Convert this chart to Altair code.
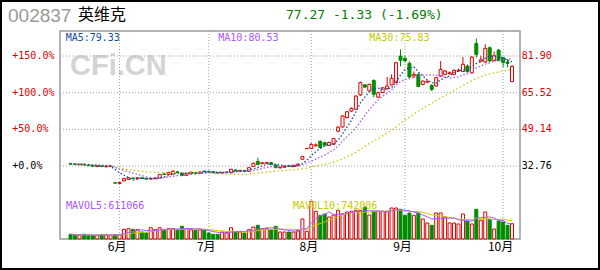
import altair as alt
import pandas as pd
import numpy as np

# ---------------- data ----------------
opens = [33.9, 33.7, 33.3, 33.6, 33.2, 32.9, 32.5, 32.8, 32.4, 32.5,
         25.3, 25.0, 26.1, 26.8, 27.4, 27.1, 27.5, 27.2, 26.9, 27.1,
         27.3, 29.2, 29.0, 29.2, 30.2, 29.6, 28.6, 29.3, 29.9, 29.5,
         30.5, 30.4, 30.2, 29.8, 29.6, 29.8, 29.7, 31.0, 30.5, 30.7,
         30.4, 32.6, 34.8, 33.8, 34.0, 34.2, 33.2, 31.9, 32.2, 32.9,
         32.5, 32.9, 35.8, 40.5, 40.6, 41.8, 43.8, 43.2, 42.0, 42.5,
         48.3, 50.2, 54.4, 57.3, 58.1, 64.5, 69.0, 66.3, 71.0, 63.5,
         65.6, 67.3, 69.0, 70.0, 81.8, 80.8, 78.6, 73.0, 73.7, 69.2,
         70.2, 68.8, 68.5, 72.9, 73.7, 74.0, 73.7, 75.2, 75.0, 77.4,
         74.4, 87.5, 79.6, 79.3, 85.6, 79.9, 84.5, 81.1, 79.2, 70.5]
highs = [34.2, 33.9, 33.8, 33.8, 33.4, 33.1, 33.0, 32.9, 32.9, 33.0,
         25.6, 25.6, 27.4, 27.8, 27.7, 27.8, 27.6, 27.4, 27.4, 27.6,
         29.2, 29.7, 30.2, 31.0, 30.5, 29.8, 29.6, 30.2, 30.1, 30.3,
         30.7, 30.6, 30.4, 30.0, 30.1, 30.3, 31.5, 31.3, 31.0, 30.9,
         32.2, 34.3, 36.5, 34.5, 34.6, 34.5, 33.4, 32.5, 33.0, 33.1,
         33.2, 33.9, 37.0, 40.66, 43.0, 42.9, 44.1, 43.6, 43.6, 45.3,
         50.5, 55.5, 57.3, 58.9, 64.4, 70.5, 69.4, 69.6, 71.4, 66.0,
         68.0, 72.5, 73.7, 79.3, 84.8, 82.0, 79.5, 75.0, 74.2, 71.0,
         71.0, 69.2, 72.6, 79.6, 75.6, 75.0, 75.9, 76.3, 81.4, 78.2,
         81.9, 89.8, 82.0, 87.1, 86.1, 83.9, 85.0, 81.6, 80.5, 77.8]
lows = [33.4, 33.2, 33.1, 33.0, 32.7, 32.4, 32.3, 32.3, 32.2, 32.3,
        24.9, 24.8, 25.9, 26.6, 26.9, 26.9, 27.0, 26.7, 26.8, 27.0,
        27.2, 28.8, 28.8, 29.0, 29.6, 28.3, 28.4, 29.1, 29.3, 29.3,
        30.1, 30.0, 29.6, 29.4, 29.4, 29.6, 29.6, 30.4, 30.3, 30.1,
        30.2, 32.4, 33.2, 33.6, 33.8, 33.2, 31.8, 31.7, 32.0, 32.3,
        32.3, 32.7, 35.5, 40.5, 40.3, 41.4, 40.8, 41.7, 41.6, 42.2,
        47.8, 49.9, 54.0, 57.0, 57.8, 64.0, 67.6, 66.0, 63.4, 63.2,
        65.3, 67.0, 68.8, 69.6, 77.3, 79.0, 71.5, 72.0, 68.0, 68.8,
        69.9, 66.2, 68.2, 72.6, 73.3, 73.6, 73.3, 74.8, 74.7, 74.5,
        74.0, 81.1, 79.0, 78.8, 79.2, 79.5, 79.4, 76.9, 76.8, 70.2]
closes = [33.6, 33.4, 33.6, 33.2, 32.9, 32.6, 32.8, 32.5, 32.7, 32.8,
          25.1, 25.4, 27.2, 27.5, 27.1, 27.5, 27.2, 26.9, 27.2, 27.4,
          29.0, 29.0, 29.8, 30.4, 29.8, 28.5, 29.3, 30.0, 29.5, 30.1,
          30.3, 30.2, 29.8, 29.6, 29.9, 30.0, 31.3, 30.6, 30.8, 30.3,
          32.0, 34.0, 33.4, 34.2, 34.3, 33.4, 32.0, 32.2, 32.7, 32.5,
          33.0, 33.6, 36.96, 40.66, 42.4, 42.2, 41.0, 42.1, 43.3, 45.0,
          50.1, 55.1, 57.0, 58.5, 64.0, 70.0, 68.0, 69.2, 64.8, 65.5,
          67.7, 68.5, 71.9, 78.9, 80.0, 79.8, 72.5, 73.7, 68.3, 70.7,
          70.6, 67.0, 72.2, 75.9, 75.2, 74.4, 75.5, 75.5, 78.2, 74.9,
          81.4, 82.6, 80.2, 85.3, 79.7, 82.0, 79.9, 79.0, 78.6, 77.27]
volumes = [189000, 149000, 149000, 189000, 149000, 149000, 149000, 173000, 173000, 149000,
           173000, 173000, 391000, 415000, 391000, 375000, 282000, 242000, 455000, 375000,
           455000, 351000, 415000, 415000, 375000, 512000, 415000, 375000, 351000, 375000,
           351000, 242000, 189000, 189000, 282000, 254000, 455000, 282000, 282000, 242000,
           375000, 484000, 552000, 415000, 415000, 375000, 512000, 282000, 282000, 282000,
           282000, 351000, 806000, 310000, 1519000, 1116000, 955000, 1008000, 887000, 967000,
           1157000, 1008000, 1088000, 1116000, 1157000, 1157000, 1290000, 967000, 1116000, 1116000,
           1116000, 1116000, 1249000, 1249000, 1197000, 955000, 1048000, 955000, 1048000, 806000,
           645000, 552000, 1048000, 1048000, 887000, 645000, 645000, 605000, 1008000, 725000,
           605000, 1197000, 754000, 1088000, 794000, 403000, 725000, 685000, 552000, 617000]

month_idx = [11, 31, 54, 75, 97]
month_labels = ["6月", "7月", "8月", "9月", "10月"]
price_ticks = [32.76, 49.14, 65.52, 81.90]
pct_labels = ["+0.0%", "+50.0%", "+100.0%", "+150.0%"]
price_labels = ["32.76", "49.14", "65.52", "81.90"]
stock_code = "002837"
stock_name = "英维克"
quote_text = "77.27 -1.33 (-1.69%)"
ma_texts = ["MA5:79.33", "MA10:80.53", "MA30:75.83"]
vol_texts = ["MAVOL5:611066", "MAVOL10:742006"]
watermark = "CFi.CN"

# ---------------- styling ----------------
RED = "#e00000"
GREEN = "#008c00"
BLUE = "#0f4c9e"
PURPLE = "#aa55ff"
YELLOW = "#c8c800"
GRID = "#a0a0a0"
MONO = "DejaVu Sans Mono"
CJK = "Noto Sans CJK SC"
W, H = 460, 208

df = pd.DataFrame({"i": np.arange(len(closes)), "open": opens, "high": highs,
                   "low": lows, "close": closes, "vol": volumes})
df["dir"] = np.where(df["close"] >= df["open"], "up", "down")
df["top"] = df[["open", "close"]].max(axis=1)
df["bot"] = df[["open", "close"]].min(axis=1)

xs = alt.Scale(domain=[0, 99], range=[5.5, 457], nice=False, zero=False)
ps = alt.Scale(domain=[32.76, 81.90], range=[135, 25], nice=False, zero=False)
vs = alt.Scale(domain=[0, 1000000], range=[208, 183.19], nice=False)
fill_s = alt.Scale(domain=["up", "down"], range=["white", GREEN])
stroke_s = alt.Scale(domain=["up", "down"], range=[RED, GREEN])

X = alt.X("i:Q", scale=xs, axis=None)
base = alt.Chart(df)

# gridlines
tick_df = pd.DataFrame({"p": price_ticks, "pct": pct_labels, "lab": price_labels})
mon_df = pd.DataFrame({"i": month_idx, "m": month_labels})
gh = alt.Chart(tick_df).mark_rule(color=GRID, strokeDash=[1, 2], strokeWidth=1).encode(
    y=alt.Y("p:Q", scale=ps, axis=None), x=alt.value(0), x2=alt.value(W))
gv = alt.Chart(mon_df).mark_rule(color=GRID, strokeDash=[1, 2], strokeWidth=1).encode(
    x=X, y=alt.value(0), y2=alt.value(H))

# watermark
wm = alt.Chart(pd.DataFrame({"t": [watermark]})).mark_text(
    align="left", baseline="middle", font="Liberation Sans", fontWeight="bold",
    fontSize=29, color="#d4d4d4").encode(x=alt.value(10), y=alt.value(35), text="t:N")

# candles
wick = base.mark_rule(strokeWidth=1).encode(
    x=X, y=alt.Y("low:Q", scale=ps, axis=None), y2="high:Q",
    stroke=alt.Stroke("dir:N", scale=stroke_s, legend=None))
body = base.mark_bar(size=3, strokeWidth=1).encode(
    x=X, y=alt.Y("top:Q", scale=ps, axis=None), y2="bot:Q",
    fill=alt.Fill("dir:N", scale=fill_s, legend=None),
    stroke=alt.Stroke("dir:N", scale=stroke_s, legend=None))

srt = [alt.SortField("i")]
ma = (base.transform_window(ma5="mean(close)", frame=[-4, 0], sort=srt)
      .transform_window(ma10="mean(close)", frame=[-9, 0], sort=srt)
      .transform_window(ma30="mean(close)", frame=[-29, 0], sort=srt))
ma5 = ma.mark_line(color=BLUE, strokeDash=[1.5, 2], strokeWidth=1.3).encode(
    x=X, y=alt.Y("ma5:Q", scale=ps, axis=None))
ma10 = ma.mark_line(color=PURPLE, strokeDash=[1.5, 2], strokeWidth=1.3).encode(
    x=X, y=alt.Y("ma10:Q", scale=ps, axis=None))
ma30 = ma.mark_line(color=YELLOW, strokeDash=[1.5, 2.5], strokeWidth=1.3).encode(
    x=X, y=alt.Y("ma30:Q", scale=ps, axis=None))

left_lab = alt.Chart(tick_df).mark_text(align="left", baseline="middle", font=MONO, fontSize=10).encode(
    y=alt.Y("p:Q", scale=ps, axis=None), x=alt.value(-47.7), text="pct:N",
    color=alt.condition("datum.p > 33", alt.value(RED), alt.value("black")))
right_lab = alt.Chart(tick_df).mark_text(align="left", baseline="middle", font=MONO, fontSize=10).encode(
    y=alt.Y("p:Q", scale=ps, axis=None), x=alt.value(461.7), text="lab:N",
    color=alt.condition("datum.p > 33", alt.value(RED), alt.value("black")))

price = alt.layer(gh, wick, body, ma30, ma10, ma5, left_lab, right_lab)

# volume
vbar = base.mark_bar(size=3, strokeWidth=1).encode(
    x=X, y=alt.Y("vol:Q", scale=vs, axis=None),
    fill=alt.Fill("dir:N", scale=fill_s, legend=None),
    stroke=alt.Stroke("dir:N", scale=stroke_s, legend=None))
mv = (base.transform_window(mv5="mean(vol)", frame=[-4, 0], sort=srt)
      .transform_window(mv10="mean(vol)", frame=[-9, 0], sort=srt))
mv5 = mv.mark_line(color=PURPLE, strokeWidth=1).encode(x=X, y=alt.Y("mv5:Q", scale=vs, axis=None))
mv10 = mv.mark_line(color=YELLOW, strokeWidth=1).encode(x=X, y=alt.Y("mv10:Q", scale=vs, axis=None))
volume = alt.layer(vbar, mv10, mv5)

# month labels
mon_lab = alt.Chart(mon_df).mark_text(align="center", baseline="middle", font=CJK,
                                      fontSize=12, dx=-2.5, color="black").encode(
    x=X, y=alt.value(216), text="m:N")


def label(txt, x, y, color, font=MONO, size=10, weight="normal"):
    return alt.Chart(pd.DataFrame({"t": [txt]})).mark_text(
        align="left", baseline="middle", font=font, fontSize=size,
        fontWeight=weight, color=color).encode(x=alt.value(x), y=alt.value(y), text="t:N")


texts = [
    label(stock_code, -52, -15, "#999999", font="Liberation Sans", size=19),
    label(stock_name, 18, -16, "black", font=CJK, size=16),
    label(quote_text, 226, -16.5, "#008000", size=13),
    label(ma_texts[0], 5.7, 7, BLUE),
    label(ma_texts[1], 158.3, 7, PURPLE),
    label(ma_texts[2], 309.3, 7, YELLOW),
    label(vol_texts[0], 6, 175, PURPLE),
    label(vol_texts[1], 233, 175, YELLOW),
]

frame = alt.Chart(pd.DataFrame({"a": [0]})).mark_rect(
    fill="white", fillOpacity=0, stroke="black", strokeWidth=2).encode(
    x=alt.value(-59), x2=alt.value(539), y=alt.value(-30), y2=alt.value(238))

chart = alt.layer(wm, gv, price, volume, mon_lab, *texts, frame).resolve_scale(
    y="independent").properties(
    width=W, height=H,
    autosize=alt.AutoSizeParams(type="none"),
    padding={"left": 60, "top": 31, "right": 80, "bottom": 31},
    background="white",
).configure_view(stroke="#999999", strokeWidth=1.5)

chart.save("out.html", embed_options={"renderer": "svg", "actions": False})
